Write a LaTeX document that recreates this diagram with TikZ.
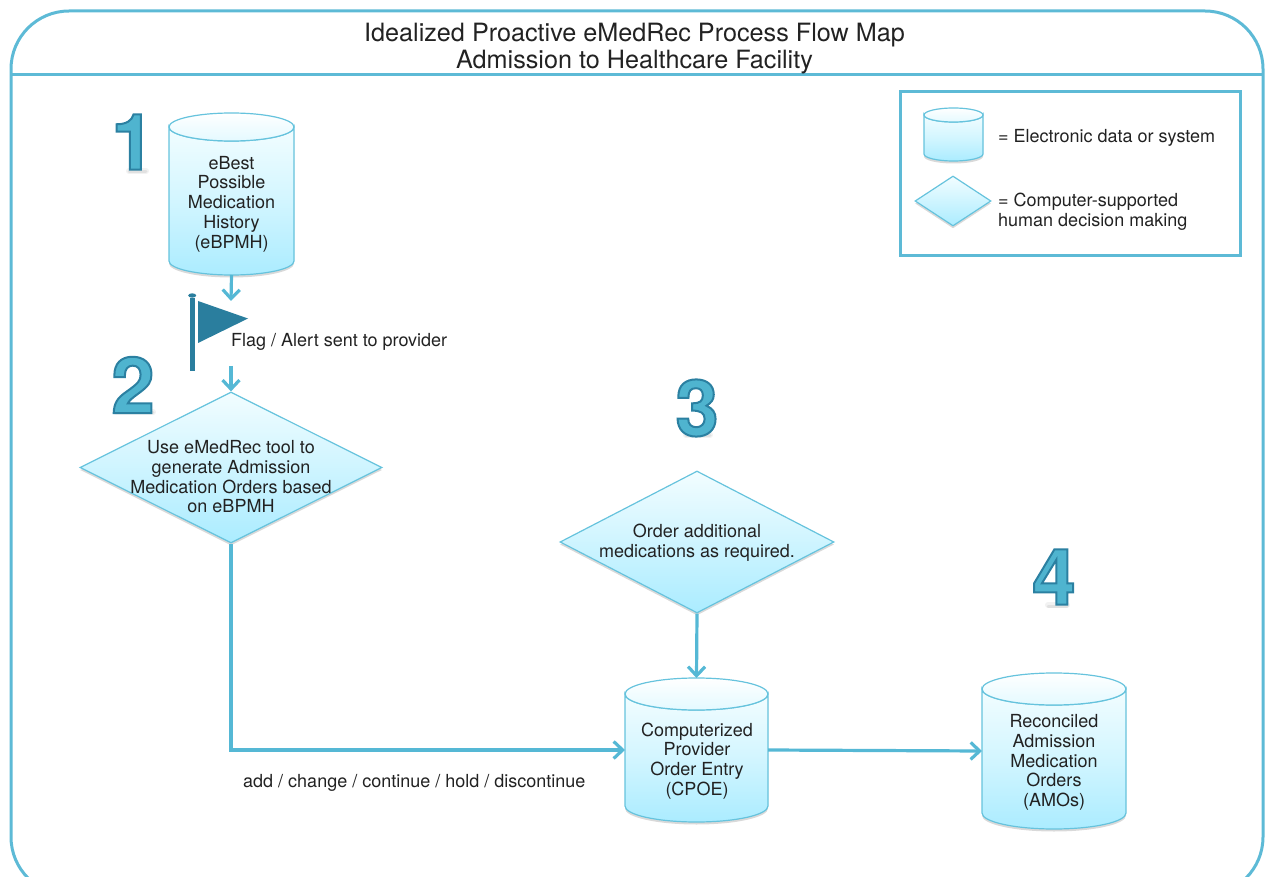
\documentclass[tikz,border=0pt]{standalone}
\usepackage{fontspec}
\setmainfont{TeX Gyre Heros}
\usetikzlibrary{arrows.meta,shapes.geometric,shadows}
\definecolor{framec}{HTML}{5DBAD6}
\definecolor{edgec}{HTML}{66C3DD}
\definecolor{connc}{HTML}{55B8D5}
\definecolor{flagc}{HTML}{2A7E9E}
\definecolor{digitc}{HTML}{4FB4CF}
\definecolor{toplt}{HTML}{F2FDFF}
\definecolor{botlt}{HTML}{ABECFF}
\definecolor{inklbl}{HTML}{222222}
\tikzset{
  frameline/.style={draw=framec,line width=3pt},
  conn/.style={draw=connc,line width=3.2pt,-{Straight Barb[length=9pt,width=17pt]}},
  softshadow/.style={drop shadow={opacity=.3,shadow xshift=0pt,shadow yshift=-2.5pt}},
  bodyshape/.style={draw=edgec,line width=1.2pt,top color=toplt,bottom color=botlt,middle color=toplt!55!botlt,softshadow},
  lidshape/.style={draw=edgec,line width=1.2pt,top color=white,bottom color=toplt!80!botlt},
  lbl/.style={inklbl,align=center,font=\fontsize{18}{19.7}\selectfont,inner sep=0pt},
  leftlbl/.style={inklbl,align=left,font=\fontsize{18}{19.7}\selectfont,inner sep=0pt,anchor=west},
  dia/.style={diamond,draw=edgec,line width=1.2pt,top color=toplt,bottom color=botlt,softshadow,inner sep=0pt,aspect=2},
  boxanchor/.style={inner sep=0pt,outer sep=0pt},
  bignum/.style={digitc,inner sep=0pt,font=\bfseries\fontsize{78}{78}\selectfont},
  digitshadow/.style={draw=black,line cap=round,line width=3pt,opacity=.07},
  digitshadowb/.style={draw=black,line cap=round,line width=6pt,opacity=.05},
}
% name, left, right, top, bottom, ry
\newcommand{\cylshape}[6]{%
  \path[bodyshape] (#2,#4+#6) -- (#2,#5-#6)
    arc[start angle=180,end angle=360,x radius={(#3-#2)/2*1pt},y radius=#6 pt]
    -- (#3,#4+#6)
    arc[start angle=0,end angle=-180,x radius={(#3-#2)/2*1pt},y radius=#6 pt] -- cycle;
  \path[lidshape] ({(#2+#3)/2},#4+#6) ellipse[x radius={(#3-#2)/2*1pt},y radius=#6 pt];
  \node[boxanchor,minimum width={(#3-#2)*1pt},minimum height={(#5-#4)*1pt}] (#1) at ({(#2+#3)/2},{(#4+#5)/2}) {};
}
\newcommand{\outl}[1]{\special{pdf:code 2 Tr 2 w 0.17 0.5 0.63 RG}#1\special{pdf:code 0 Tr}}
\begin{document}
\begin{tikzpicture}[x=1pt,y=-1pt]
\useasboundingbox (0,0) rectangle (1270,877);
\begin{scope}
\clip (0,0) rectangle (1270,877);
\draw[frameline,rounded corners=58pt] (11,11) rectangle (1263,895);
\end{scope}
\coordinate (ruleL) at (11,75);
\coordinate (ruleR) at (1263,75);
\draw[frameline] (ruleL) -- (ruleR);
\node[inner sep=0pt,align=center,inklbl,font=\fontsize{25.2}{27}\selectfont] (title) at (634.5,48.5) {Idealized Proactive eMedRec Process Flow Map\\Admission to Healthcare Facility};

% legend
\node[draw=framec,line width=3pt,minimum width=340pt,minimum height=164pt,inner sep=0pt] (legend) at (1070,174) {};
\cylshape{legcyl}{924}{983}{108}{161}{7}
\node[dia,minimum width=76pt,minimum height=50pt] (legdia) at (953,201) {};
\node[leftlbl] (legt1) at (998,138) {= Electronic data or system};
\node[leftlbl] (legt2) at (998,212) {= Computer-supported\\human decision making};

% cylinders
\cylshape{ebpmh}{169}{294}{113}{275}{14}
\node[lbl] (ebpmht) at (231.5,204) {eBest\\Possible\\Medication\\History\\(eBPMH)};
\cylshape{cpoe}{625}{768}{678}{822}{16}
\node[lbl] (cpoet) at (697,761) {Computerized\\Provider\\Order Entry\\(CPOE)};
\cylshape{amo}{982}{1126}{673}{829}{16}
\node[lbl] (amot) at (1054,762.5) {Reconciled\\Admission\\Medication\\Orders\\(AMOs)};

% diamonds
\node[dia,minimum width=302pt,minimum height=151pt] (d1) at (231,467.5) {};
\node[lbl] (d1t) at (231,477) {Use eMedRec tool to\\generate Admission\\Medication Orders based\\on eBPMH};
\node[dia,minimum width=274pt,minimum height=142pt] (d2) at (697,542) {};
\node[lbl] (d2t) at (697,543) {Order additional\\medications as required.};

% flag
\path[fill=flagc] (190,298) rectangle (194.5,371);
\path[fill=flagc] (192.2,295.5) ellipse[x radius=4pt,y radius=2.2pt];
\path[fill=flagc] (198,301) -- (248,318.5) -- (198,343) -- cycle;
\node[leftlbl] (flagt) at (231,342) {Flag / Alert sent to provider};

% connectors
\coordinate (flagin) at (231,301);
\coordinate (flagout) at (231,366);
\draw[conn] (ebpmh.south) -- (flagin);
\draw[conn] (flagout) -- (d1.north);
\draw[conn] (d1.south) |- (cpoe.west);
\draw[conn] (d2.south) -- (cpoe.north);
\draw[conn] (cpoe.east) -- (amo.west);
\node[leftlbl] (edget) at (243,783) {add / change / continue / hold / discontinue};

% number shadows
\path[digitshadowb] (129,171) -- (146,171);
\path[digitshadow] (129,172) -- (146,172);
\path[digitshadowb] (116,412) -- (153,412);
\path[digitshadow] (116,413) -- (153,413);
\path[digitshadowb] (686,435) -- (710,435);
\path[digitshadow] (686,436) -- (710,436);
\path[digitshadowb] (1048,605) -- (1067,605);
\path[digitshadow] (1048,606) -- (1067,606);
% numbers
\node[bignum] (n1) at (133,142) {\outl{1}};
\node[bignum] (n2) at (133,385) {\outl{2}};
\node[bignum] (n3) at (697,408) {\outl{3}};
\node[bignum] (n4) at (1054,577) {\outl{4}};
\end{tikzpicture}
\end{document}
